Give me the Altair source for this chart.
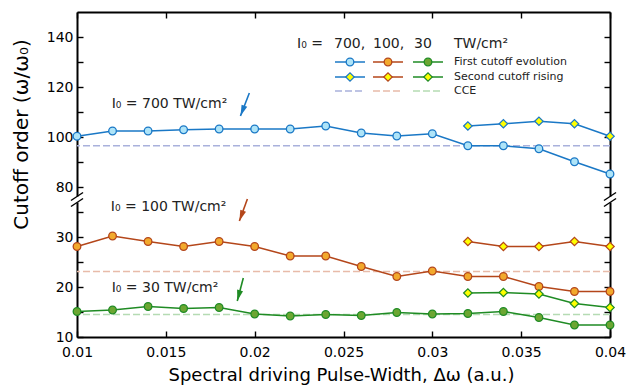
import math
import altair as alt
import pandas as pd

# Spectral driving pulse width (a.u.)
dw = [0.010, 0.012, 0.014, 0.016, 0.018, 0.020, 0.022, 0.024,
      0.026, 0.028, 0.030, 0.032, 0.034, 0.036, 0.038, 0.040]

# First cutoff evolution for I0 = 700, 100, 30 TW/cm^2
first_700 = [100.3, 102.4, 102.4, 102.9, 103.2, 103.2, 103.2, 104.4,
             101.6, 100.4, 101.3, 96.5, 96.5, 95.3, 90.1, 85.2]
first_100 = [28.1, 30.2, 29.1, 28.1, 29.1, 28.1, 26.2, 26.2,
             24.1, 22.1, 23.2, 22.1, 22.1, 20.1, 19.1, 19.1]
first_30 = [15.1, 15.4, 16.1, 15.7, 15.9, 14.6, 14.2, 14.5,
            14.3, 14.9, 14.6, 14.7, 15.1, 13.9, 12.4, 12.4]

# Second cutoff rising (only at the widest pulses)
dw_second = [0.032, 0.034, 0.036, 0.038, 0.040]
second_700 = [104.4, 105.3, 106.3, 105.3, 100.3]
second_100 = [29.1, 28.1, 28.1, 29.1, 28.1]
second_30 = [18.8, 18.9, 18.6, 16.7, 15.9]

# Classical cutoff estimate per intensity
series_names = ["700", "100", "30"]
cce_values = [96.5, 23.1, 14.5]

# In-plot labels and arrows
ann_text = ["I\u2080 = 700 TW/cm\u00b2", "I\u2080 = 100 TW/cm\u00b2", "I\u2080 = 30 TW/cm\u00b2"]
ann_dw = [0.01195, 0.01190, 0.01195]
ann_value = [111.6, 35.3, 19.1]
arrow_dw = [0.0197, 0.01959, 0.01936]
arrow_value = [117.6, 37.6, 21.8]
arrow_dw2 = [0.0192, 0.01914, 0.01902]
arrow_value2 = [108.4, 33.2, 17.2]

FONT = "DejaVu Sans"
W, H = 533, 325
X_DOMAIN = [0.01, 0.04]
Y_DOMAIN = [10, 75]
X_TICKS = [0.01, 0.015, 0.02, 0.025, 0.03, 0.035, 0.04]
Y_TICKS = [10, 15, 20, 25, 30, 35, 40, 45, 50, 55, 60, 65, 70]
BREAK_POS = 37.5

line_colors = ["#1a78c6", "#b4461a", "#1f8b24"]
fill_colors = ["#aee4f8", "#f2a92c", "#6ca632"]
cce_colors = ["#a9b1dc", "#e8bba9", "#b5dbb3"]
DIAMOND_FILL = "#ffff00"

# broken y axis: the 75..150 band is compressed 2:1 above the break
POS = "datum.value >= 60 ? 40 + (datum.value - 80) / 2 : datum.value"
Y_LABEL = ("datum.value % 10 != 0 ? '' : "
           "(datum.value < 38 ? '' + datum.value : '' + (80 + (datum.value - 40) * 2))")

rows = []
for s, vals in zip(series_names, [first_700, first_100, first_30]):
    for x, v in zip(dw, vals):
        rows.append({"dw": x, "value": v, "series": s, "kind": "first"})
for s, vals in zip(series_names, [second_700, second_100, second_30]):
    for x, v in zip(dw_second, vals):
        rows.append({"dw": x, "value": v, "series": s, "kind": "second"})
df = pd.DataFrame(rows)
cce_df = pd.DataFrame({"series": series_names, "value": cce_values})

xs = alt.Scale(domain=X_DOMAIN, nice=False, zero=False)
ys = alt.Scale(domain=Y_DOMAIN, nice=False, zero=False)

common_axis = dict(
    domainColor="black", domainWidth=2, tickColor="black", tickWidth=1.4,
    tickSize={"expr": "-6"}, grid=False, labelFont=FONT, labelFontSize=14,
    labelColor="black", titleFont=FONT, titleColor="black",
    titleFontWeight="normal", labelOverlap=False, zindex=0,
)
x_bottom = alt.Axis(orient="bottom", values=X_TICKS, format=".3~f", labelPadding=14,
                    labelFlush=False, title="Spectral driving Pulse-Width, \u0394\u03c9 (a.u.)",
                    titleFontSize=18, titleX=264, titleY=43, titleBaseline="alphabetic",
                    titleAlign="center", **common_axis)
x_top = alt.Axis(orient="top", values=X_TICKS, labels=False, title="", **common_axis)
y_left = alt.Axis(orient="left", values=Y_TICKS, labelExpr=Y_LABEL, labelPadding=10,
                  title="Cutoff order (\u03c9/\u03c9\u2080)", titleFontSize=20,
                  titleX=-56, titleY=122, titleAngle=270, titleBaseline="middle",
                  titleAlign="center", **common_axis)
y_right = alt.Axis(orient="right", values=Y_TICKS, labels=False, title="", **common_axis)


def xenc(axis=None, field="dw"):
    return alt.X(f"{field}:Q", scale=xs, axis=axis)


def yenc(axis=None, field="pos"):
    return alt.Y(f"{field}:Q", scale=ys, axis=axis)


base = alt.Chart(df).transform_calculate(pos=POS)
layers = []

# classical cutoff estimates (dashed, full width)
for s, cc in zip(series_names, cce_colors):
    layers.append(
        alt.Chart(cce_df).transform_filter(alt.datum.series == s)
        .transform_calculate(pos=POS)
        .mark_rule(color=cc, strokeDash=[7, 3], strokeWidth=1.6)
        .encode(y=yenc())
    )

for i, (s, lc, fc) in enumerate(zip(series_names, line_colors, fill_colors)):
    first = base.transform_filter((alt.datum.series == s) & (alt.datum.kind == "first"))
    second = base.transform_filter((alt.datum.series == s) & (alt.datum.kind == "second"))
    ax_x, ax_y = (x_bottom, y_left) if i == 0 else (None, None)
    ax_x2, ax_y2 = (x_top, y_right) if i == 0 else (None, None)
    layers.append(first.mark_line(color=lc, strokeWidth=1.5)
                  .encode(x=xenc(ax_x), y=yenc(ax_y)))
    layers.append(second.mark_line(color=lc, strokeWidth=1.5)
                  .encode(x=xenc(ax_x2), y=yenc(ax_y2)))
    layers.append(first.mark_point(shape="circle", size=58, fill=fc, stroke=lc,
                                   strokeWidth=1.3, opacity=1, fillOpacity=1)
                  .encode(x=xenc(), y=yenc()))
    layers.append(second.mark_point(shape="diamond", size=72, fill=DIAMOND_FILL, stroke=lc,
                                    strokeWidth=1.2, opacity=1, fillOpacity=1)
                  .encode(x=xenc(), y=yenc()))

# intensity labels
ann_df = pd.DataFrame({"text": ann_text, "dw": ann_dw, "value": ann_value})
layers.append(
    alt.Chart(ann_df).transform_calculate(pos=POS)
    .mark_text(align="left", baseline="alphabetic", font=FONT, fontSize=14, color="#222222")
    .encode(x=xenc(), y=yenc(), text="text:N")
)

# arrows pointing at the curves
arr_df = pd.DataFrame({"dw": arrow_dw, "value": arrow_value,
                       "dw2": arrow_dw2, "value2": arrow_value2})
HEAD = "M0,0L-0.55,-2L0.55,-2Z"


def to_pos(v):
    return 40 + (v - 80) / 2 if v >= 60 else v


for i, lc in enumerate(line_colors):
    one = arr_df.iloc[[i]]
    dx = (arrow_dw2[i] - arrow_dw[i]) / (X_DOMAIN[1] - X_DOMAIN[0]) * W
    dy = -(to_pos(arrow_value2[i]) - to_pos(arrow_value[i])) / (Y_DOMAIN[1] - Y_DOMAIN[0]) * H
    ang = math.degrees(math.atan2(-dx, dy)) % 360
    layers.append(
        alt.Chart(one).transform_calculate(pos=POS, pos2=POS.replace("value", "value2"))
        .mark_rule(color=lc, strokeWidth=1.6)
        .encode(x=xenc(), x2="dw2:Q", y=yenc(), y2="pos2:Q")
    )
    layers.append(
        alt.Chart(one).transform_calculate(pos2=POS.replace("value", "value2"))
        .mark_point(shape=HEAD, size=121, filled=True, color=lc, opacity=1, angle=round(ang, 1))
        .encode(x=xenc(field="dw2"), y=yenc(field="pos2"))
    )

# axis break marks on both sides
gap_dx = 0.00013
slash_dx = 0.00034
slash_dy = 0.8
brk = pd.DataFrame({"dw": [X_DOMAIN[0], X_DOMAIN[1]]})
layers.append(
    alt.Chart(brk).transform_calculate(
        x1=f"datum.dw - {gap_dx}", x2=f"datum.dw + {gap_dx}",
        y1=f"{BREAK_POS - 0.6}", y2=f"{BREAK_POS + 0.6}")
    .mark_rect(color="white")
    .encode(x=xenc(field="x1"), x2="x2:Q", y=yenc(field="y1"), y2="y2:Q")
)
for off in (-0.6, 0.6):
    layers.append(
        alt.Chart(brk).transform_calculate(
            x1=f"datum.dw - {slash_dx}", x2=f"datum.dw + {slash_dx}",
            y1=f"{BREAK_POS + off - slash_dy}", y2=f"{BREAK_POS + off + slash_dy}")
        .mark_rule(color="black", strokeWidth=1.4)
        .encode(x=xenc(field="x1"), x2="x2:Q", y=yenc(field="y1"), y2="y2:Q")
    )

# legend block (pixel layout inside the plot area)
one_row = pd.DataFrame({"k": [0]})
LEG_HEADER_Y = 36
LEG_ROWS = [50, 65, 79]
LEG_COLS = [(258, 288), (296, 326), (336, 366)]
header_items = [("I\u2080 =", 220), ("700,", 257), ("100,", 296), ("30", 337), ("TW/cm\u00b2", 377)]
for txt, px in header_items:
    layers.append(
        alt.Chart(one_row).mark_text(align="left", baseline="alphabetic", font=FONT,
                                     fontSize=14, color="#222222")
        .encode(x=alt.value(px), y=alt.value(LEG_HEADER_Y), text=alt.value(txt))
    )
for (x1, x2), lc, fc, cc in zip(LEG_COLS, line_colors, fill_colors, cce_colors):
    cx = (x1 + x2) / 2
    for row_y in LEG_ROWS[:2]:
        layers.append(
            alt.Chart(one_row).mark_rule(color=lc, strokeWidth=1.5)
            .encode(x=alt.value(x1), x2=alt.value(x2), y=alt.value(row_y))
        )
    layers.append(
        alt.Chart(one_row).mark_point(shape="circle", size=58, fill=fc, stroke=lc,
                                      strokeWidth=1.3, opacity=1, fillOpacity=1)
        .encode(x=alt.value(cx), y=alt.value(LEG_ROWS[0]))
    )
    layers.append(
        alt.Chart(one_row).mark_point(shape="diamond", size=72, fill=DIAMOND_FILL, stroke=lc,
                                      strokeWidth=1.2, opacity=1, fillOpacity=1)
        .encode(x=alt.value(cx), y=alt.value(LEG_ROWS[1]))
    )
    layers.append(
        alt.Chart(one_row).mark_rule(color=cc, strokeDash=[7, 3], strokeWidth=1.6)
        .encode(x=alt.value(x1), x2=alt.value(x2), y=alt.value(LEG_ROWS[2]))
    )
for txt, row_y in zip(["First cutoff evolution", "Second cutoff rising", "CCE"], LEG_ROWS):
    layers.append(
        alt.Chart(one_row).mark_text(align="left", baseline="middle", font=FONT,
                                     fontSize=11, color="#222222")
        .encode(x=alt.value(377), y=alt.value(row_y), text=alt.value(txt))
    )

chart = (
    alt.layer(*layers)
    .resolve_axis(x="independent", y="independent")
    .properties(width=W, height=H,
                padding={"left": 77, "top": 12, "right": 17, "bottom": 50},
                autosize=alt.AutoSizeParams(type="none"))
    .configure_view(strokeWidth=0)
    .configure(background="white")
)

chart.save("out.html", embed_options={"renderer": "svg", "actions": False})
